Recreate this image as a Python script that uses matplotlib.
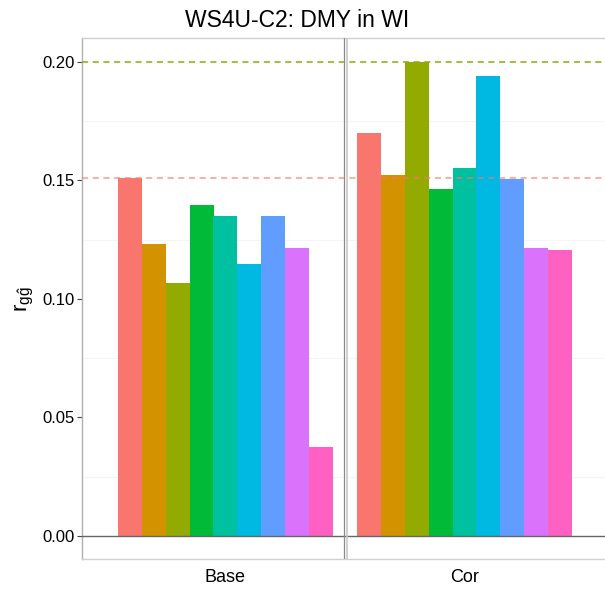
import matplotlib
matplotlib.use("Agg")
import matplotlib.pyplot as plt
import numpy as np

plt.rcParams['font.family'] = ['Liberation Sans', 'DejaVu Sans']
plt.rcParams['mathtext.fontset'] = 'custom'
plt.rcParams['mathtext.rm'] = 'Liberation Sans'
plt.rcParams['mathtext.it'] = 'Liberation Sans'

categories = ["Base", "Cor"]
series_colors = ["#F8766D", "#D39200", "#93AA00", "#00BA38", "#00C19F",
                 "#00B9E3", "#619CFF", "#DB72FB", "#FF61C3"]
base_values = [0.1510, 0.1231, 0.1068, 0.1397, 0.1349, 0.1146, 0.1349, 0.1215, 0.0377]
cor_values = [0.1700, 0.1522, 0.2000, 0.1466, 0.1551, 0.1940, 0.1506, 0.1217, 0.1205]
hline_salmon = 0.1510
hline_olive = 0.2000
yticks = [0.00, 0.05, 0.10, 0.15, 0.20]
ytick_labels = ["0.00", "0.05", "0.10", "0.15", "0.20"]
minor_ticks = [0.025, 0.075, 0.125, 0.175]

fig = plt.figure(figsize=(6.05, 5.96), dpi=100)
ax = fig.add_axes([82/605, 1-559/596, (608-82)/605, (559-38)/596])

n = len(series_colors)
w = 0.9 / n
values = np.array([base_values, cor_values])
for i in range(n):
    xs = np.arange(1, len(categories)+1) - 0.45 + w*(i+0.5)
    ax.bar(xs, values[:, i], width=w, color=series_colors[i], linewidth=0, zorder=3)

for m in minor_ticks:
    ax.axhline(m, color="#f5f5f5", lw=0.8, zorder=1)

ax.axhline(0, color="#666666", lw=1.0, zorder=4)
ax.axhline(hline_salmon, color="#F8766D", lw=1.1, ls=(0, (4, 3)), alpha=0.75, zorder=5)
ax.axhline(hline_olive, color="#93AA00", lw=1.1, ls=(0, (4, 3)), zorder=5)
ax.axvline(1.5 - 0.004, color="#8a8a8a", lw=0.9, zorder=5)
ax.axvline(1.5 + 0.0065, color="#c8c8c8", lw=1.2, zorder=5)

ax.set_xlim(0.4, 2.6)
ax.set_ylim(-0.0097, 0.2101)
ax.set_xticks([1, 2])
ax.set_xticklabels(categories, fontsize=13)
ax.set_yticks(yticks)
ax.set_yticklabels(ytick_labels, fontsize=12)
ax.tick_params(axis='x', length=0, pad=7)
ax.tick_params(axis='y', length=3.5, width=0.8, color="#444444", pad=2)

for side in ['top', 'left', 'bottom', 'right']:
    ax.spines[side].set_color("#d0d0d0")
    ax.spines[side].set_linewidth(1.0)
ax.spines['left'].set_color("#b0b0b0")

ax.set_ylabel(r'$\mathrm{r}_{\mathrm{g}\hat{\mathrm{g}}}$', fontsize=16, labelpad=4)
ax.set_title("WS4U-C2: DMY in WI", fontsize=16.5, pad=8, x=(297.5-82)/(608-82))

fig.savefig("out.png", dpi=100)
